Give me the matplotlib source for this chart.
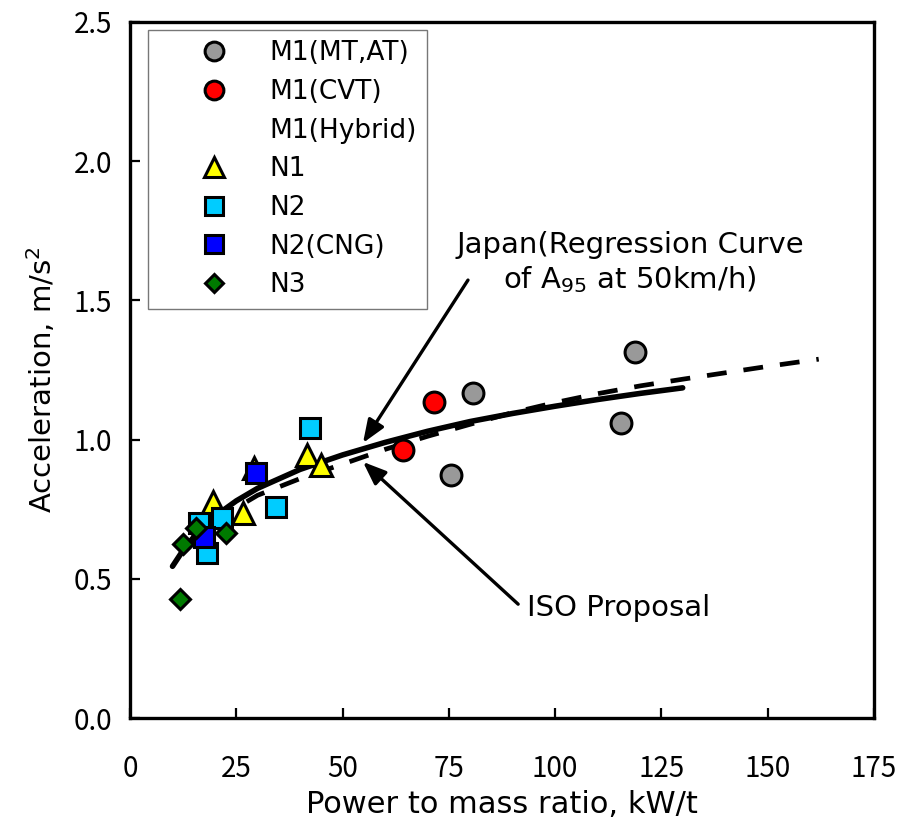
"""Acceleration versus power to mass ratio, with regression curves."""
from matplotlib import pyplot as plt

plt.rcParams['font.family'] = ['DejaVu Sans']

# measured vehicles, by category
m1_mtat_x = [118.8, 80.7, 115.5, 75.5]
m1_mtat_y = [1.315, 1.167, 1.060, 0.873]
m1_cvt_x = [71.5, 64.2]
m1_cvt_y = [1.135, 0.963]
n1_x = [19.5, 26.6, 29.2, 41.6, 44.9]
n1_y = [0.776, 0.736, 0.898, 0.945, 0.909]
n2_x = [42.4, 34.3, 21.6, 18.1, 16.2]
n2_y = [1.042, 0.758, 0.718, 0.593, 0.700]
n2_cng_x = [29.6, 17.4]
n2_cng_y = [0.880, 0.650]
n3_x = [11.8, 12.5, 15.5, 22.6]
n3_y = [0.427, 0.625, 0.682, 0.664]

# curves
japan_x = [10, 12.5, 15, 20, 25, 30, 40, 50, 60, 70, 80, 90, 100, 110, 120, 130]
japan_y = [0.545, 0.603, 0.650, 0.725, 0.780, 0.825, 0.893, 0.945, 0.990,
           1.030, 1.065, 1.094, 1.120, 1.144, 1.166, 1.186]
iso_x = [20, 30, 40, 50, 60, 70, 80, 90, 100, 110, 120, 130, 140, 150, 162]
iso_y = [0.71, 0.80, 0.86, 0.912, 0.965, 1.012, 1.055, 1.097, 1.133, 1.165,
         1.193, 1.217, 1.240, 1.263, 1.289]

fig = plt.figure(figsize=(9.2, 8.33), dpi=100)
ax = fig.add_axes([0.1413, 0.138, 0.8087, 0.8356])

ax.plot(japan_x, japan_y, color='black', lw=4, solid_capstyle='round', zorder=2)
ax.plot(iso_x, iso_y, color='black', lw=3.4, dashes=(4.2, 3.6), zorder=2)

mk = dict(ls='none', mec='black', mew=2.2, zorder=3)
ax.plot(m1_mtat_x, m1_mtat_y, marker='o', ms=15, mfc='#999999',
        label='M1(MT,AT)', **mk)
ax.plot(m1_cvt_x, m1_cvt_y, marker='o', ms=15, mfc='#ff0000',
        label='M1(CVT)', **mk)
ax.plot([], [], ls='none', marker='none', label='M1(Hybrid)')
ax.plot(n1_x, n1_y, marker='^', ms=16, mfc='#ffff00', label='N1', **mk)
ax.plot(n2_x, n2_y, marker='s', ms=14, mfc='#00ccff', label='N2', **mk)
ax.plot(n2_cng_x, n2_cng_y, marker='s', ms=14, mfc='#0000ff',
        label='N2(CNG)', **mk)
ax.plot(n3_x, n3_y, marker='D', ms=10.5, mfc='#007a00', label='N3', **mk)

arrow = dict(arrowstyle='-|>,head_length=1.4,head_width=0.55',
             color='black', lw=2.4, shrinkA=0, shrinkB=0)
ax.annotate('', xy=(54.8, 0.988), xytext=(79.5, 1.573), arrowprops=arrow)
ax.annotate('', xy=(54.8, 0.920), xytext=(91.3, 0.409), arrowprops=arrow)
ax.text(117.6, 1.635, 'Japan(Regression Curve\nof $\\mathregular{A_{95}}$ at 50km/h)',
        ha='center', va='center', fontsize=21, linespacing=1.2)
ax.text(93.4, 0.395, 'ISO Proposal', ha='left', va='center', fontsize=21)

ax.set_xlim(0, 175)
ax.set_ylim(0, 2.5)
ax.set_xticks(range(0, 176, 25))
ax.set_yticks([0.0, 0.5, 1.0, 1.5, 2.0, 2.5])
ax.set_yticklabels(['0.0', '0.5', '1.0', '1.5', '2.0', '2.5'])
ax.tick_params(direction='in', length=7, width=1.6)
ax.tick_params(axis='x', pad=26)
ax.tick_params(axis='y', pad=13)
for lab in ax.get_xticklabels() + ax.get_yticklabels():
    lab.set_fontfamily(['Noto Sans CJK JP', 'DejaVu Sans'])
    lab.set_fontsize(20)
for side in ax.spines:
    ax.spines[side].set_linewidth(2.4)
ax.set_xlabel('Power to mass ratio, kW/t', fontsize=22, labelpad=4)
ax.set_ylabel('Acceleration, m/s$\\mathregular{^2}$', fontsize=21)
ax.yaxis.set_label_coords(-0.097, 0.486)

leg = ax.legend(loc='upper left', bbox_to_anchor=(0.024, 0.989),
                borderaxespad=0, fontsize=19, frameon=True, fancybox=False,
                handletextpad=0.0, labelspacing=0.48, borderpad=0.4,
                handlelength=4.2, markerscale=0.9)
leg.get_frame().set_edgecolor('#555555')
leg.get_frame().set_linewidth(1.0)

fig.savefig('out.png', dpi=100)
